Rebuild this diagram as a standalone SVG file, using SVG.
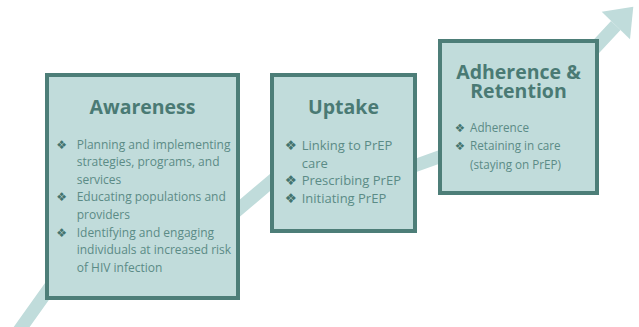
<svg xmlns="http://www.w3.org/2000/svg" width="639" height="327" viewBox="0 0 639 327">
  <style>
    .box { fill: #c1dcdb; stroke: #4d7e78; stroke-width: 4; }
    .title { font-family: "Open Sans", "Noto Sans", sans-serif; font-weight: 700; font-size: 19.5px; fill: #4a7a74; text-anchor: middle; }
    .body { font-family: "Open Sans", "Noto Sans", sans-serif; fill: #5b8b86; }
    .dot { font-family: "DejaVu Sans", sans-serif; fill: #44746e; text-anchor: middle; }
    .band { fill: none; stroke: #c0dcdb; stroke-width: 13; stroke-linejoin: miter; }
    .head { fill: #c0dcdb; }
  </style>

  <!-- rising arrow behind the stages -->
  <g id="connectors">
    <polyline class="band" points="12.4,340 100,217 200,242 290,165.5 400,171 540,120.7 575,69.2 615.8,25.5"/>
    <polygon class="head" points="633.3,6.7 601.7,11.7 630,39.3"/>
  </g>

  <!-- stage 1 -->
  <g id="awareness">
    <rect class="box" x="47" y="75" width="191" height="223"/>
    <text class="title" x="142.5" y="113.5">Awareness</text>
    <g class="dot" font-size="12">
      <text x="61.7" y="148.5">❖</text>
      <text x="61.7" y="201">❖</text>
      <text x="61.7" y="236.5">❖</text>
    </g>
    <text class="body" font-size="12">
      <tspan x="76.7" y="148.5">Planning and implementing</tspan>
      <tspan x="76.7" y="166">strategies, programs, and</tspan>
      <tspan x="76.7" y="183.5">services</tspan>
      <tspan x="76.7" y="201">Educating populations and</tspan>
      <tspan x="76.7" y="218.5">providers</tspan>
      <tspan x="76.7" y="236.5">Identifying and engaging</tspan>
      <tspan x="76.7" y="254">individuals at increased risk</tspan>
      <tspan x="76.7" y="271.5">of HIV infection</tspan>
    </text>
  </g>

  <!-- stage 2 -->
  <g id="uptake">
    <rect class="box" x="272" y="75" width="143" height="156"/>
    <text class="title" x="343.5" y="113.5">Uptake</text>
    <g class="dot" font-size="13.5">
      <text x="290.7" y="150">❖</text>
      <text x="290.7" y="185">❖</text>
      <text x="290.7" y="202.5">❖</text>
    </g>
    <text class="body" font-size="13">
      <tspan x="301.7" y="150">Linking to PrEP</tspan>
      <tspan x="301.7" y="167.5">care</tspan>
      <tspan x="301.7" y="185">Prescribing PrEP</tspan>
      <tspan x="301.7" y="202.5">Initiating PrEP</tspan>
    </text>
  </g>

  <!-- stage 3 -->
  <g id="adherence-retention">
    <rect class="box" x="440" y="41" width="157" height="152"/>
    <text class="title" x="518.5" y="78.5">Adherence &amp;</text>
    <text class="title" x="518.5" y="97.5">Retention</text>
    <g class="dot" font-size="11.5">
      <text x="460" y="131.5">❖</text>
      <text x="460" y="150">❖</text>
    </g>
    <text class="body" font-size="11.7">
      <tspan x="470" y="131.5">Adherence</tspan>
      <tspan x="470" y="150">Retaining in care</tspan>
      <tspan x="470" y="168.5">(staying on PrEP)</tspan>
    </text>
  </g>
</svg>
